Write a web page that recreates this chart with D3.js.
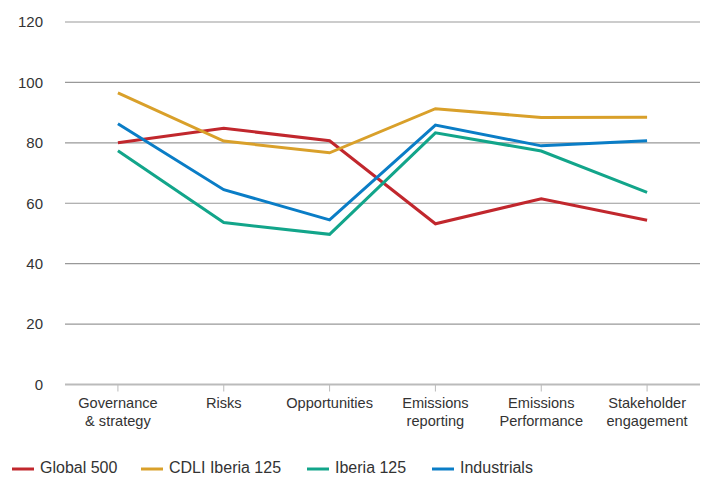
<!DOCTYPE html>
<html lang="en">
<head>
<meta charset="utf-8">
<script src="https://d3js.org/d3.v7.min.js"></script>
<style>
  body { margin: 0; background: #fff; }
  svg text { font-family: "Liberation Sans", Arial, sans-serif; fill: #333; }
</style>
</head>
<body>
<svg class="chart"></svg>
<script>
// categories and series
const categories = [
  ["Governance", "& strategy"],
  ["Risks"],
  ["Opportunities"],
  ["Emissions", "reporting"],
  ["Emissions", "Performance"],
  ["Stakeholder", "engagement"]
];
const seriesNames = ["Global 500", "CDLI Iberia 125", "Iberia 125", "Industrials"];
const global500   = [80, 84.8, 80.7, 53.2, 61.5, 54.4];
const cdliIberia  = [96.5, 80.6, 76.7, 91.3, 88.4, 88.5];
const iberia125   = [77.4, 53.6, 49.7, 83.3, 77.3, 63.6];
const industrials = [86.3, 64.5, 54.5, 85.9, 79, 80.7];
const yTicks = [0, 20, 40, 60, 80, 100, 120];

const colors = ["#c1272d", "#d9a02a", "#12a58a", "#0a7dc6"];
const series = [global500, cdliIberia, iberia125, industrials];

const width = 711, height = 477;
const svg = d3.select(".chart").attr("width", width).attr("height", height);

const x = d3.scaleBand().domain(d3.range(categories.length)).range([65, 700]);
const y = d3.scaleLinear().domain([0, 120]).range([384.5, 22]);

// grid
svg.append("g")
  .selectAll("line")
  .data(yTicks)
  .join("line")
    .attr("x1", 65).attr("x2", 700)
    .attr("y1", d => y(d)).attr("y2", d => y(d))
    .attr("stroke", d => d === 0 ? "#bbb" : "#999")
    .attr("stroke-width", d => d === 0 ? 2 : 1.2);

// y labels
svg.append("g")
  .selectAll("text")
  .data(yTicks)
  .join("text")
    .attr("x", 43)
    .attr("y", d => y(d))
    .attr("dy", "0.35em")
    .attr("text-anchor", "end")
    .style("font-size", "15px")
    .text(d => d);

// x ticks and labels
const xg = svg.append("g");
xg.selectAll("line")
  .data(categories)
  .join("line")
    .attr("x1", (d, i) => x(i) + x.bandwidth() / 2)
    .attr("x2", (d, i) => x(i) + x.bandwidth() / 2)
    .attr("y1", y(0)).attr("y2", y(0) + 7)
    .attr("stroke", "#bbb");

xg.selectAll("text")
  .data(categories)
  .join("text")
    .attr("text-anchor", "middle")
    .attr("transform", (d, i) => `translate(${x(i) + x.bandwidth() / 2},408)`)
    .style("font-size", "14.6px")
    .selectAll("tspan")
    .data(d => d)
    .join("tspan")
      .attr("x", 0)
      .attr("y", (d, i) => i * 18)
      .text(d => d);

// lines
const line = d3.line()
  .x((d, i) => x(i) + x.bandwidth() / 2)
  .y(d => y(d));

svg.append("g")
  .selectAll("path")
  .data(series)
  .join("path")
    .attr("d", line)
    .attr("fill", "none")
    .attr("stroke", (d, i) => colors[i])
    .attr("stroke-width", 3);

// legend (kept just inside the bottom edge)
const legendX = [12, 141, 307, 432];
const legend = svg.append("g")
  .selectAll("g")
  .data(seriesNames)
  .join("g")
    .attr("transform", (d, i) => `translate(${legendX[i]},468)`);
legend.append("line")
  .attr("x1", 0).attr("x2", 22)
  .attr("y1", 1).attr("y2", 1)
  .attr("stroke", (d, i) => colors[i])
  .attr("stroke-width", 3);
legend.append("text")
  .attr("x", 28)
  .attr("dy", "0.33em")
  .style("font-size", "16px")
  .text(d => d);
</script>
</body>
</html>
